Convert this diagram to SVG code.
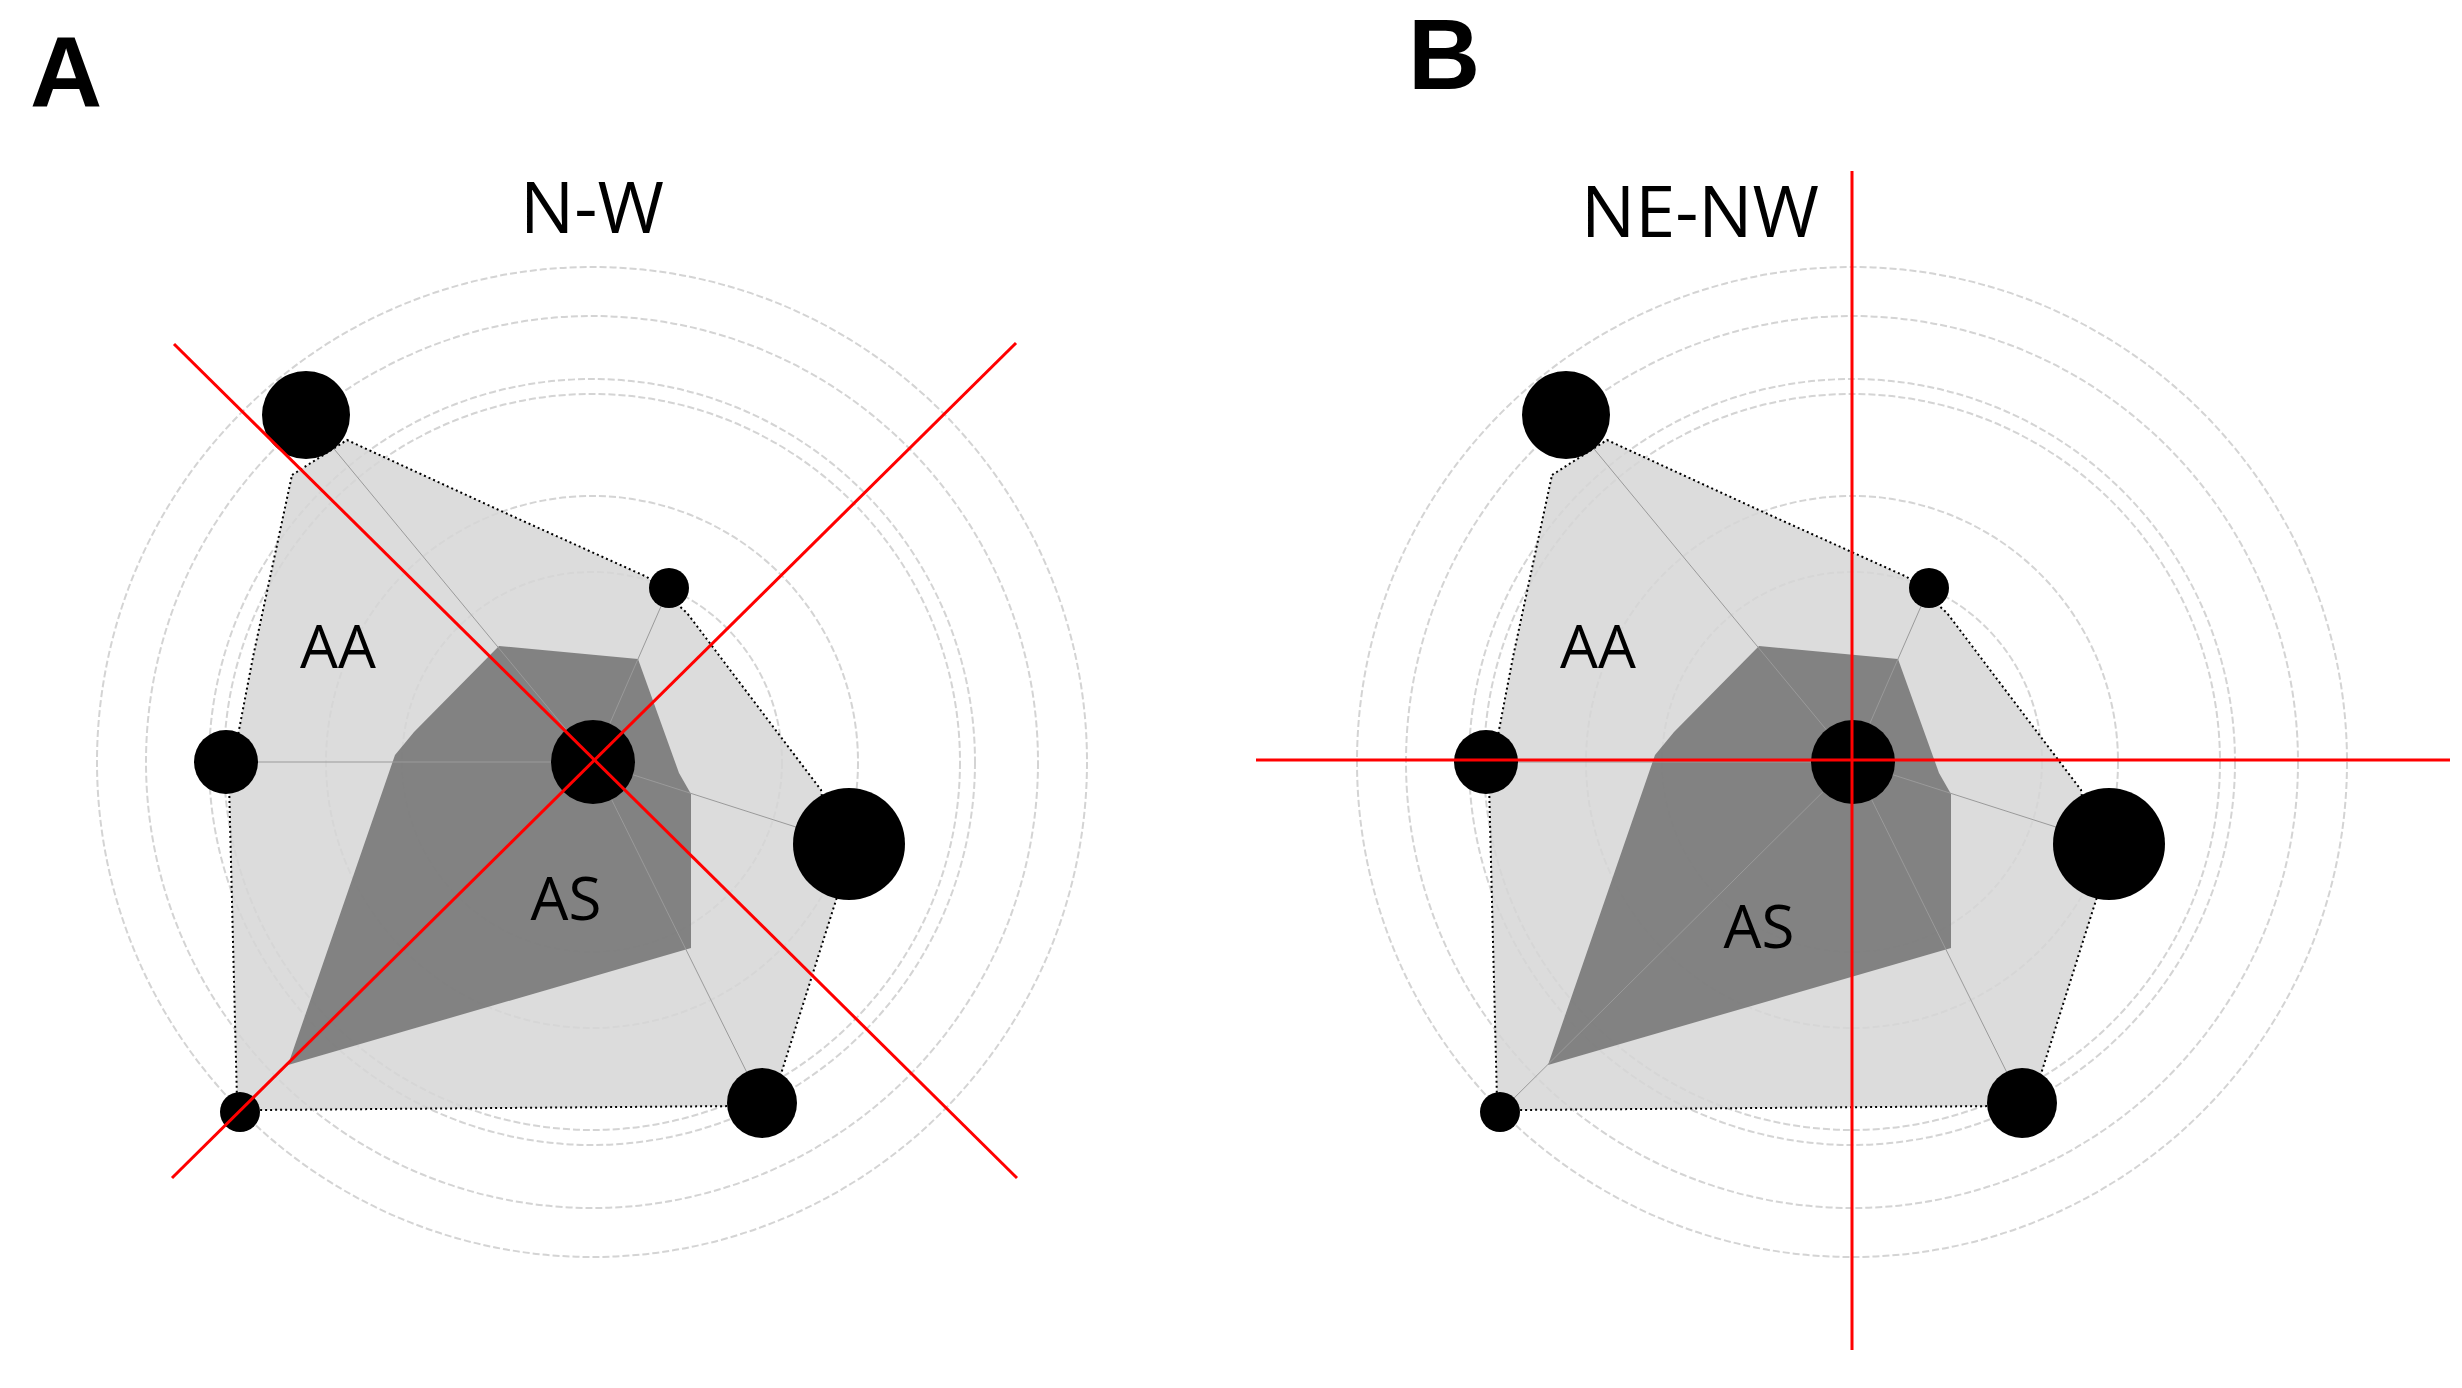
<svg xmlns="http://www.w3.org/2000/svg" width="2462" height="1388" viewBox="0 0 2462 1388">
<style>
.ring{fill:none;stroke:#d4d4d4;stroke-width:2;stroke-dasharray:7 3}
.spoke{stroke:#9a9a9a;stroke-width:1}
.light{fill:#d6d6d6;fill-opacity:0.85;stroke:#000;stroke-width:2;stroke-dasharray:2 3}
.dark{fill:#787878;fill-opacity:0.9}
.red{stroke:#ff0000;stroke-width:3}
.t{font-family:"Open Sans","DejaVu Sans",sans-serif;fill:#000}
.lab{font-family:"Liberation Sans",Arial,sans-serif;font-weight:bold;font-size:100px}
</style>
<defs>
<g id="chart">
<g class="rings">
<circle class="ring" cx="592" cy="762" r="495"/>
<circle class="ring" cx="592" cy="762" r="446"/>
<circle class="ring" cx="592" cy="762" r="383"/>
<circle class="ring" cx="592" cy="762" r="368"/>
<circle class="ring" cx="592" cy="762" r="266"/>
<circle class="ring" cx="592" cy="762" r="190"/>
</g>
<polygon class="light" points="292,475 347,440 501,511 647,577 687,613 821,790 837,897 781,1074 742,1106 260,1110 237,1101 229,782 253,657"/>
<polygon class="dark" points="499,646 638,659 679,773 691,794 691,948 288,1065 395,755 414,732"/>
<g class="spokes">
<line class="spoke" x1="593" y1="762" x2="306" y2="415"/>
<line class="spoke" x1="593" y1="762" x2="669" y2="588"/>
<line class="spoke" x1="593" y1="762" x2="849" y2="844"/>
<line class="spoke" x1="593" y1="762" x2="762" y2="1103"/>
<line class="spoke" x1="593" y1="762" x2="240" y2="1112"/>
<line class="spoke" x1="593" y1="762" x2="226" y2="762"/>
</g>
<g class="nodes">
<circle cx="306" cy="415" r="44"/>
<circle cx="669" cy="588" r="20"/>
<circle cx="849" cy="844" r="56"/>
<circle cx="762" cy="1103" r="35"/>
<circle cx="240" cy="1112" r="20"/>
<circle cx="226" cy="762" r="32"/>
<circle cx="593" cy="762" r="42"/>
</g>
<text class="t" x="338" y="668" font-size="60" text-anchor="middle">AA</text>
</g>
</defs>
<g id="panelA">
<use href="#chart"/>
<text class="t" x="566" y="920" font-size="60" text-anchor="middle">AS</text>
<text class="t" x="592" y="233" font-size="72" text-anchor="middle">N-W</text>
<text class="lab" x="30" y="107">A</text>
<g id="connectorsA">
<line class="red" x1="174" y1="344" x2="1017" y2="1178"/>
<line class="red" x1="172" y1="1178" x2="1016" y2="343"/>
</g>
</g>
<g id="panelB">
<use href="#chart" transform="translate(1260,0)"/>
<text class="t" x="1759" y="948" font-size="60" text-anchor="middle">AS</text>
<text class="t" x="1700" y="237" font-size="72" text-anchor="middle">NE-NW</text>
<text class="lab" x="1408" y="89">B</text>
<g id="connectorsB">
<line class="red" x1="1852" y1="171" x2="1852" y2="1350"/>
<line class="red" x1="1256" y1="760" x2="2450" y2="760"/>
</g>
</g>
</svg>
